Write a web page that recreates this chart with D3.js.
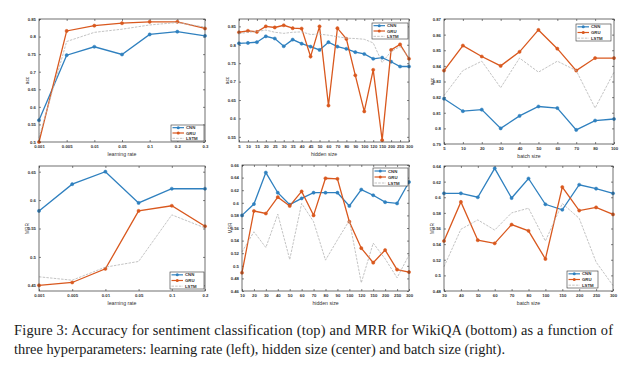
<!DOCTYPE html>
<html><head><meta charset="utf-8">
<script src="https://cdn.jsdelivr.net/npm/d3@7"></script>
<style>body{margin:0;background:#fff}svg{display:block}</style>
</head><body>
<script>
// ---------- data ----------
const seriesNames = ["CNN","GRU","LSTM"];

const lrTop = ["0.001","0.005","0.01","0.05","0.1","0.2","0.3"];
const accLrCNN  = [0.562,0.747,0.771,0.749,0.806,0.814,0.802];
const accLrGRU  = [0.500,0.816,0.831,0.838,0.842,0.842,0.823];
const accLrLSTM = [0.512,0.786,0.812,0.821,0.833,0.840,0.827];
const accLrTicks = [0.5,0.55,0.6,0.65,0.7,0.75,0.8,0.85];

const hiddenTop = ["5","10","15","20","25","30","35","40","45","50","60","70","80","90","100","120","150","200","250","300"];
const accHidCNN  = [0.804,0.805,0.807,0.823,0.817,0.796,0.814,0.803,0.795,0.786,0.807,0.795,0.789,0.780,0.775,0.762,0.765,0.754,0.741,0.741];
const accHidGRU  = [0.834,0.838,0.835,0.850,0.847,0.853,0.845,0.844,0.768,0.850,0.635,0.845,0.816,0.717,0.619,0.732,0.541,0.786,0.801,0.762];
const accHidLSTM = [0.830,0.834,0.836,0.840,0.834,0.831,0.834,0.835,0.828,0.829,0.826,0.822,0.818,0.817,0.815,0.805,0.752,0.782,0.795,0.765];
const accHidTicks = [0.55,0.6,0.65,0.7,0.75,0.8,0.85];

const batchTop = ["5","10","20","30","40","50","60","70","80","100"];
const accBatCNN  = [0.819,0.811,0.812,0.800,0.808,0.814,0.813,0.799,0.805,0.806];
const accBatGRU  = [0.837,0.853,0.846,0.840,0.849,0.863,0.851,0.837,0.845,0.845];
const accBatLSTM = [0.821,0.837,0.843,0.826,0.845,0.836,0.843,0.837,0.813,0.836];
const accBatTicks = [0.79,0.8,0.81,0.82,0.83,0.84,0.85,0.86,0.87];

const lrBot = ["0.001","0.005","0.01","0.05","0.1","0.2"];
const mrrLrCNN  = [0.581,0.628,0.650,0.595,0.620,0.620];
const mrrLrGRU  = [0.450,0.455,0.479,0.581,0.590,0.554];
const mrrLrLSTM = [0.465,0.459,0.482,0.492,0.574,0.551];
const mrrLrTicks = [0.45,0.5,0.55,0.6,0.65];

const hiddenBot = ["10","20","30","40","50","60","70","80","90","100","120","150","200","250","300"];
const mrrHidCNN  = [0.580,0.598,0.648,0.616,0.597,0.607,0.616,0.616,0.616,0.595,0.621,0.612,0.601,0.599,0.633];
const mrrHidGRU  = [0.489,0.587,0.583,0.609,0.595,0.618,0.580,0.639,0.638,0.570,0.528,0.505,0.525,0.494,0.490];
const mrrHidLSTM = [0.522,0.554,0.529,0.582,0.510,0.599,0.570,0.509,0.541,0.572,0.473,0.536,0.511,0.481,0.517];
const mrrHidTicks = [0.46,0.48,0.5,0.52,0.54,0.56,0.58,0.6,0.62,0.64,0.66];

const batchBot = ["30","40","50","60","70","80","100","150","200","250","300"];
const mrrBatCNN  = [0.605,0.605,0.600,0.637,0.599,0.624,0.591,0.584,0.616,0.611,0.605];
const mrrBatGRU  = [0.544,0.594,0.545,0.541,0.565,0.557,0.521,0.613,0.583,0.587,0.578];
const mrrBatLSTM = [0.511,0.559,0.571,0.558,0.580,0.586,0.544,0.592,0.573,0.517,0.487];
const mrrBatTicks = [0.48,0.5,0.52,0.54,0.56,0.58,0.6,0.62,0.64];

const captionLines = [
  "Figure 3:  Accuracy for sentiment classification (top) and MRR for WikiQA (bottom) as a function of",
  "three hyperparameters: learning rate (left), hidden size (center) and batch size (right)."
];

// ---------- layout / style ----------
const W = 621, H = 370;
const colors = {CNN:"#2f80bf", GRU:"#d9581e", LSTM:"#b4b4b4"};
const panels = [
  {x:lrTop, s:[accLrCNN,accLrGRU,accLrLSTM], ticks:accLrTicks, dom:[0.5,0.85], xl:"learning rate", yl:"acc",
   box:[39,205,19,142], leg:[171,204,125,141]},
  {x:hiddenTop, s:[accHidCNN,accHidGRU,accHidLSTM], ticks:accHidTicks, dom:[0.536,0.87], xl:"hidden size", yl:"acc",
   box:[239,409,19,142], leg:[372,408,23,39]},
  {x:batchTop, s:[accBatCNN,accBatGRU,accBatLSTM], ticks:accBatTicks, dom:[0.79,0.87], xl:"batch size", yl:"acc",
   box:[444,614,19,144], leg:[576,611,24,41]},
  {x:lrBot, s:[mrrLrCNN,mrrLrGRU,mrrLrLSTM], ticks:mrrLrTicks, dom:[0.44,0.66], xl:"learning rate", yl:"MRR",
   box:[39,205,166,291], leg:[170,204,272,289]},
  {x:hiddenBot, s:[mrrHidCNN,mrrHidGRU,mrrHidLSTM], ticks:mrrHidTicks, dom:[0.46,0.66], xl:"hidden size", yl:"MRR",
   box:[242,409,165,291], leg:[373,408,168,186]},
  {x:batchBot, s:[mrrBatCNN,mrrBatGRU,mrrBatLSTM], ticks:mrrBatTicks, dom:[0.48,0.64], xl:"batch size", yl:"MRR",
   box:[444,613,166,291], leg:[567,598,271,288]}
];
const fmt = v => String(+v.toFixed(3));

const svg = d3.select("body").append("svg").attr("width",W).attr("height",H)
  .style("font-family","'Liberation Sans',Arial,sans-serif");
svg.append("rect").attr("width",W).attr("height",H).attr("fill","#fff");

panels.forEach(p => {
  const [x0,x1,y0,y1] = p.box;
  const xs = d3.scalePoint().domain(p.x).range([x0,x1]).padding(0);
  const ys = d3.scaleLinear().domain(p.dom).range([y1,y0]);
  const g = svg.append("g");

  const tk = 2;
  const ax = g.append("g").attr("transform",`translate(0,${y1})`)
    .call(d3.axisBottom(xs).tickSizeInner(-tk).tickSizeOuter(0).tickPadding(3));
  const axT = g.append("g").attr("transform",`translate(0,${y0})`)
    .call(d3.axisTop(xs).tickSizeInner(-tk).tickSizeOuter(0).tickFormat(""));
  const ay = g.append("g").attr("transform",`translate(${x0},0)`)
    .call(d3.axisLeft(ys).tickValues(p.ticks).tickFormat(fmt).tickSizeInner(-tk).tickSizeOuter(0).tickPadding(3));
  const ayR = g.append("g").attr("transform",`translate(${x1},0)`)
    .call(d3.axisRight(ys).tickValues(p.ticks).tickFormat("").tickSizeInner(-tk).tickSizeOuter(0));
  [ax,axT,ay,ayR].forEach(a => {
    a.select(".domain").remove();
    a.selectAll("line").attr("stroke","#333").attr("stroke-width",0.6);
    a.selectAll("text").attr("font-size",4.3).attr("font-weight","bold").attr("fill","#333");
  });

  p.s.forEach((vals,i) => {
    const name = seriesNames[i];
    const pts = vals.map((v,j)=>[xs(p.x[j]), ys(v)]);
    const path = g.append("path").attr("d",d3.line()(pts)).attr("fill","none")
      .attr("stroke",colors[name]);
    if (name==="LSTM") {
      path.attr("stroke-width",0.8).attr("stroke-dasharray","2.5,1.2");
    } else {
      path.attr("stroke-width",1.3);
      g.selectAll(null).data(pts).enter().append("circle")
        .attr("cx",d=>d[0]).attr("cy",d=>d[1]).attr("r",1.6)
        .attr("fill",colors[name]).attr("stroke",colors[name]).attr("stroke-width",0.5);
    }
  });

  g.append("rect").attr("x",x0).attr("y",y0).attr("width",x1-x0).attr("height",y1-y0)
    .attr("fill","none").attr("stroke","#333").attr("stroke-width",0.7);

  g.append("text").attr("x",(x0+x1)/2).attr("y",y1+13.5).attr("text-anchor","middle")
    .attr("font-size",5.2).attr("fill","#333").text(p.xl);
  g.append("text").attr("transform",`translate(${x0-10},${(y0+y1)/2}) rotate(-90)`)
    .attr("text-anchor","middle").attr("font-size",4.8).attr("fill","#333").text(p.yl);

  const [lx0,lx1,ly0,ly1] = p.leg;
  const lg = g.append("g");
  lg.append("rect").attr("x",lx0).attr("y",ly0).attr("width",lx1-lx0).attr("height",ly1-ly0)
    .attr("fill","#fff").attr("stroke","#333").attr("stroke-width",0.6);
  const rows = d3.scalePoint().domain(seriesNames).range([ly0,ly1]).padding(0.5);
  seriesNames.forEach(n => {
    const yy = rows(n);
    const ln = lg.append("line").attr("x1",lx0+1.5).attr("x2",lx0+13).attr("y1",yy).attr("y2",yy)
      .attr("stroke",colors[n]);
    if (n==="LSTM") ln.attr("stroke-width",0.8).attr("stroke-dasharray","2.5,1.2");
    else {
      ln.attr("stroke-width",1.2);
      lg.append("circle").attr("cx",lx0+7.25).attr("cy",yy).attr("r",1.5).attr("fill",colors[n]);
    }
    lg.append("text").attr("x",lx0+15).attr("y",yy+1.5).attr("font-size",4.3)
      .attr("font-weight","bold").attr("fill","#333").text(n);
  });
});

// caption
const cap = svg.append("g").attr("font-family","'Liberation Serif','Times New Roman',Times,serif")
  .attr("font-size",14.4).attr("fill","#1a1a1a");
cap.append("text").attr("x",14).attr("y",335).attr("textLength",599).attr("lengthAdjust","spacing").text(captionLines[0]);
cap.append("text").attr("x",14).attr("y",354).attr("textLength",491).attr("lengthAdjust","spacing").text(captionLines[1]);
</script>
</body></html>
